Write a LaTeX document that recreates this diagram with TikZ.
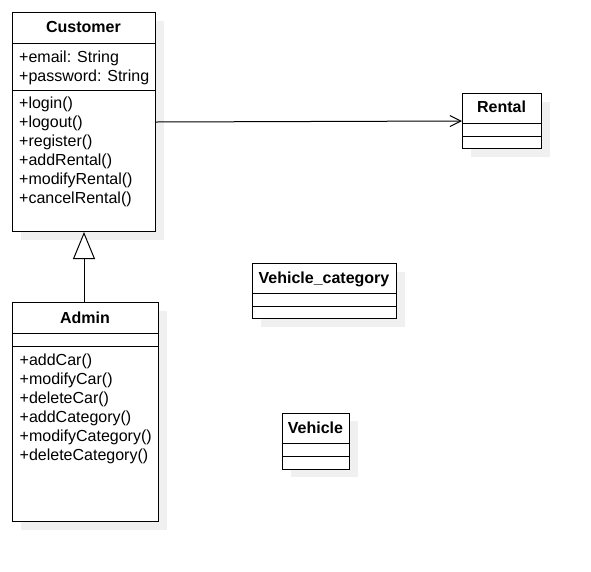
\documentclass[tikz,border=0pt]{standalone}
\usepackage{fontspec}
\setmainfont{Liberation Sans}
\usetikzlibrary{arrows.meta,shadows}
\definecolor{shadowgray}{RGB}{240,240,240}
\begin{document}
\begin{tikzpicture}[x=1pt,y=-1pt,
  every node/.style={font=\fontsize{16}{19}\selectfont},
  classbox/.style={draw=black, line width=1pt, fill=white, anchor=north west, inner sep=0pt,
    drop shadow={shadow xshift=8pt, shadow yshift=-8pt, fill=shadowgray, opacity=1, draw=none}},
  classtitle/.style={font=\fontsize{16}{19}\selectfont\bfseries, anchor=base, inner sep=0pt},
  member/.style={anchor=base west, inner sep=0pt},
  sepline/.style={line width=1pt, draw=black},
  conn/.style={line width=1pt, draw=black}]
\useasboundingbox (0,0) rectangle (591,571);

% Customer
\node[classbox, minimum width=143pt, minimum height=219pt] (customer) at (12,12) {};
\node[classtitle] (customertitle) at (83.5,32.5) {Customer};
\draw[sepline] (customer.west |- 0,43.5) -- (customer.east |- 0,43.5);
\draw[sepline] (customer.west |- 0,90.5) -- (customer.east |- 0,90.5);
\node[member] (ca1) at (19,62) {+email: String};
\node[member] (ca2) at (19,81) {+password: String};
\foreach \t [count=\i] in {+login(),+logout(),+register(),+addRental(),+modifyRental(),+cancelRental()}
  \node[member] (cm\i) at (19,{108.5+19*(\i-1)}) {\t};

% Rental
\node[classbox, minimum width=79pt, minimum height=55pt] (rental) at (462,93) {};
\node[classtitle] (rentaltitle) at (501.5,112.5) {Rental};
\draw[sepline] (rental.west |- 0,123.5) -- (rental.east |- 0,123.5);
\draw[sepline] (rental.west |- 0,136) -- (rental.east |- 0,136);

% Vehicle_category
\node[classbox, minimum width=144pt, minimum height=55pt] (vcat) at (252,263) {};
\node[classtitle] (vcattitle) at (324,283.5) {Vehicle\_category};
\draw[sepline] (vcat.west |- 0,293.5) -- (vcat.east |- 0,293.5);
\draw[sepline] (vcat.west |- 0,306.5) -- (vcat.east |- 0,306.5);

% Vehicle
\node[classbox, minimum width=67pt, minimum height=56pt] (vehicle) at (282,412.5) {};
\node[classtitle] (vehicletitle) at (315.5,433.5) {Vehicle};
\draw[sepline] (vehicle.west |- 0,443.5) -- (vehicle.east |- 0,443.5);
\draw[sepline] (vehicle.west |- 0,456.5) -- (vehicle.east |- 0,456.5);

% Admin
\node[classbox, minimum width=146pt, minimum height=219pt] (admin) at (12,302) {};
\node[classtitle] (admintitle) at (85,323) {Admin};
\draw[sepline] (admin.west |- 0,333.5) -- (admin.east |- 0,333.5);
\draw[sepline] (admin.west |- 0,346) -- (admin.east |- 0,346);
\foreach \t [count=\i] in {+addCar(),+modifyCar(),+deleteCar(),+addCategory(),+modifyCategory(),+deleteCategory()}
  \node[member] (am\i) at (19.5,{365+19*(\i-1)}) {\t};

% Connectors
\draw[conn, -{Straight Barb[length=11pt,width=11pt,line width=1pt]}] (customer.east) -- (rental.west);
\draw[conn, -{Triangle[open, length=27pt, width=22pt, fill=white, line width=1pt]}] (admin.north -| customer.south) -- (customer.south);
\end{tikzpicture}
\end{document}
